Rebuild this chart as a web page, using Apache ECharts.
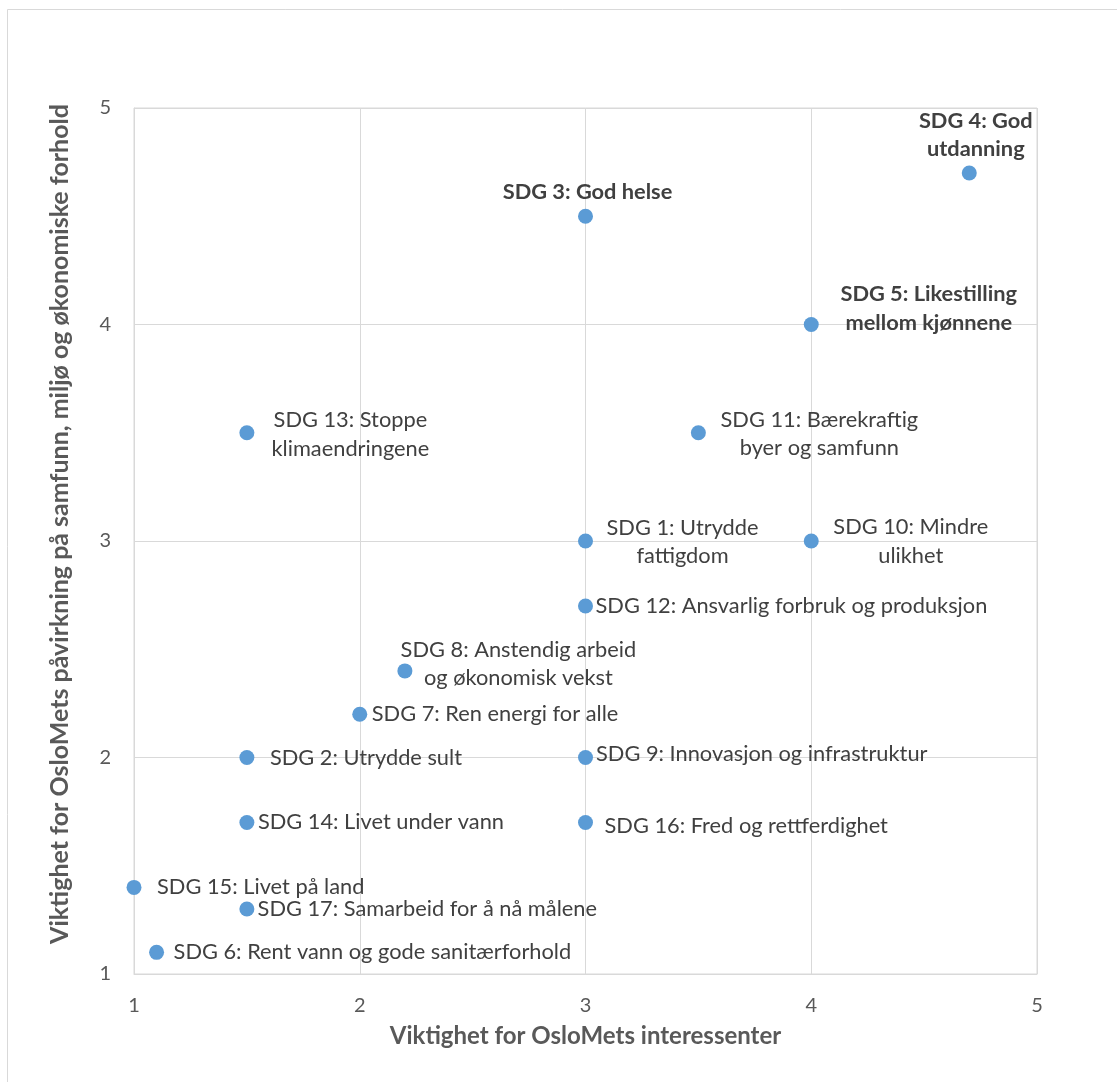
<!DOCTYPE html>
<html>
<head>
<meta charset="utf-8">
<script src="https://cdn.jsdelivr.net/npm/echarts@6/dist/echarts.min.js"></script>
<style>
html,body{margin:0;padding:0;background:#fff;}
#chart{width:1117px;height:1082px;}
</style>
</head>
<body>
<div id="chart"></div>
<script>
// ---- data ----
const labels = [
  'SDG 1: Utrydde\nfattigdom',
  'SDG 2: Utrydde sult',
  'SDG 3: God helse',
  'SDG 4: God\nutdanning',
  'SDG 5: Likestilling\nmellom kjønnene',
  'SDG 6: Rent vann og gode sanitærforhold',
  'SDG 7: Ren energi for alle',
  'SDG 8: Anstendig arbeid\nog økonomisk vekst',
  'SDG 9: Innovasjon og infrastruktur',
  'SDG 10: Mindre\nulikhet',
  'SDG 11: Bærekraftig\nbyer og samfunn',
  'SDG 12: Ansvarlig forbruk og produksjon',
  'SDG 13: Stoppe\nklimaendringene',
  'SDG 14: Livet under vann',
  'SDG 15: Livet på land',
  'SDG 16: Fred og rettferdighet',
  'SDG 17: Samarbeid for å nå målene'
];
const stakeholderImportance = [3, 1.5, 3, 4.7, 4, 1.1, 2, 2.2, 3, 4, 3.5, 3, 1.5, 1.5, 1, 3, 1.5];
const impactImportance      = [3, 2, 4.5, 4.7, 4, 1.1, 2.2, 2.4, 2, 3, 3.5, 2.7, 3.5, 1.7, 1.4, 1.7, 1.3];
const highlighted = ['SDG 3', 'SDG 4', 'SDG 5'];
const xTitle = 'Viktighet for OsloMets interessenter';
const yTitle = 'Viktighet for OsloMets påvirkning på samfunn, miljø og økonomiske forhold';

// ---- label placement (pixel offsets from the point centre) ----
const labelPlacement = [
  ['center', 97, 1],
  ['left', 23, 0],
  ['center', 2, -24],
  ['center', 6.5, -38],
  ['center', 117.5, -16],
  ['left', 17, 0],
  ['left', 12, 0],
  ['center', 113.5, -7],
  ['left', 10.5, -3.5],
  ['center', 99.5, 0.5],
  ['center', 121, 1],
  ['left', 10, 0],
  ['center', 103.5, 1.5],
  ['left', 11, 0],
  ['left', 23, 0],
  ['left', 19, 4],
  ['left', 10.7, 0]
];

const FONT = 'Lato';
const SYMBOL = 15;
const points = labels.map((name, i) => {
  const bold = highlighted.some(h => name.startsWith(h + ':'));
  const p = labelPlacement[i];
  return {
    name: name,
    value: [stakeholderImportance[i], impactImportance[i]],
    label: {
      show: true,
      formatter: '{b}',
      position: [SYMBOL / 2 + p[1], SYMBOL / 2 + p[2]],
      align: p[0],
      verticalAlign: 'middle',
      fontWeight: bold ? 'bold' : 'normal'
    }
  };
});

const chart = echarts.init(document.getElementById('chart'), null, {renderer: 'canvas'});
chart.setOption({
  animation: false,
  backgroundColor: '#ffffff',
  textStyle: {fontFamily: FONT},
  graphic: [{
    type: 'rect',
    shape: {x: 7.5, y: 9.5, width: 1300, height: 1300},
    style: {fill: null, stroke: '#D9D9D9', lineWidth: 1},
    silent: true,
    z: -10
  }],
  grid: {left: 134, top: 108, right: 80, bottom: 108, show: true, borderColor: '#D9D9D9', borderWidth: 1},
  xAxis: {
    type: 'value', min: 1, max: 5, interval: 1,
    name: xTitle, nameLocation: 'middle', nameGap: 50,
    nameTextStyle: {fontFamily: FONT, fontSize: 24, fontWeight: 'bold', color: '#595959'},
    axisLine: {show: true, lineStyle: {color: '#D9D9D9', width: 1}},
    axisTick: {show: false},
    axisLabel: {color: '#595959', fontSize: 20, fontFamily: FONT, margin: 22},
    splitLine: {show: true, lineStyle: {color: '#D9D9D9', width: 1}}
  },
  yAxis: {
    type: 'value', min: 1, max: 5, interval: 1,
    name: yTitle, nameLocation: 'middle', nameGap: 62, nameRotate: 90,
    nameTextStyle: {fontFamily: FONT, fontSize: 25, fontWeight: 'bold', color: '#595959', padding: [0, 0, 0, 34]},
    axisLine: {show: true, lineStyle: {color: '#D9D9D9', width: 1}},
    axisTick: {show: false},
    axisLabel: {color: '#595959', fontSize: 20, fontFamily: FONT, margin: 23},
    splitLine: {show: true, lineStyle: {color: '#D9D9D9', width: 1}}
  },
  series: [{
    type: 'scatter',
    symbol: 'circle',
    symbolSize: SYMBOL,
    itemStyle: {color: '#5B9BD5', opacity: 1},
    label: {
      color: '#404040',
      fontSize: 21.8,
      fontFamily: FONT,
      lineHeight: 28.5
    },
    data: points
  }]
});
</script>
</body>
</html>
